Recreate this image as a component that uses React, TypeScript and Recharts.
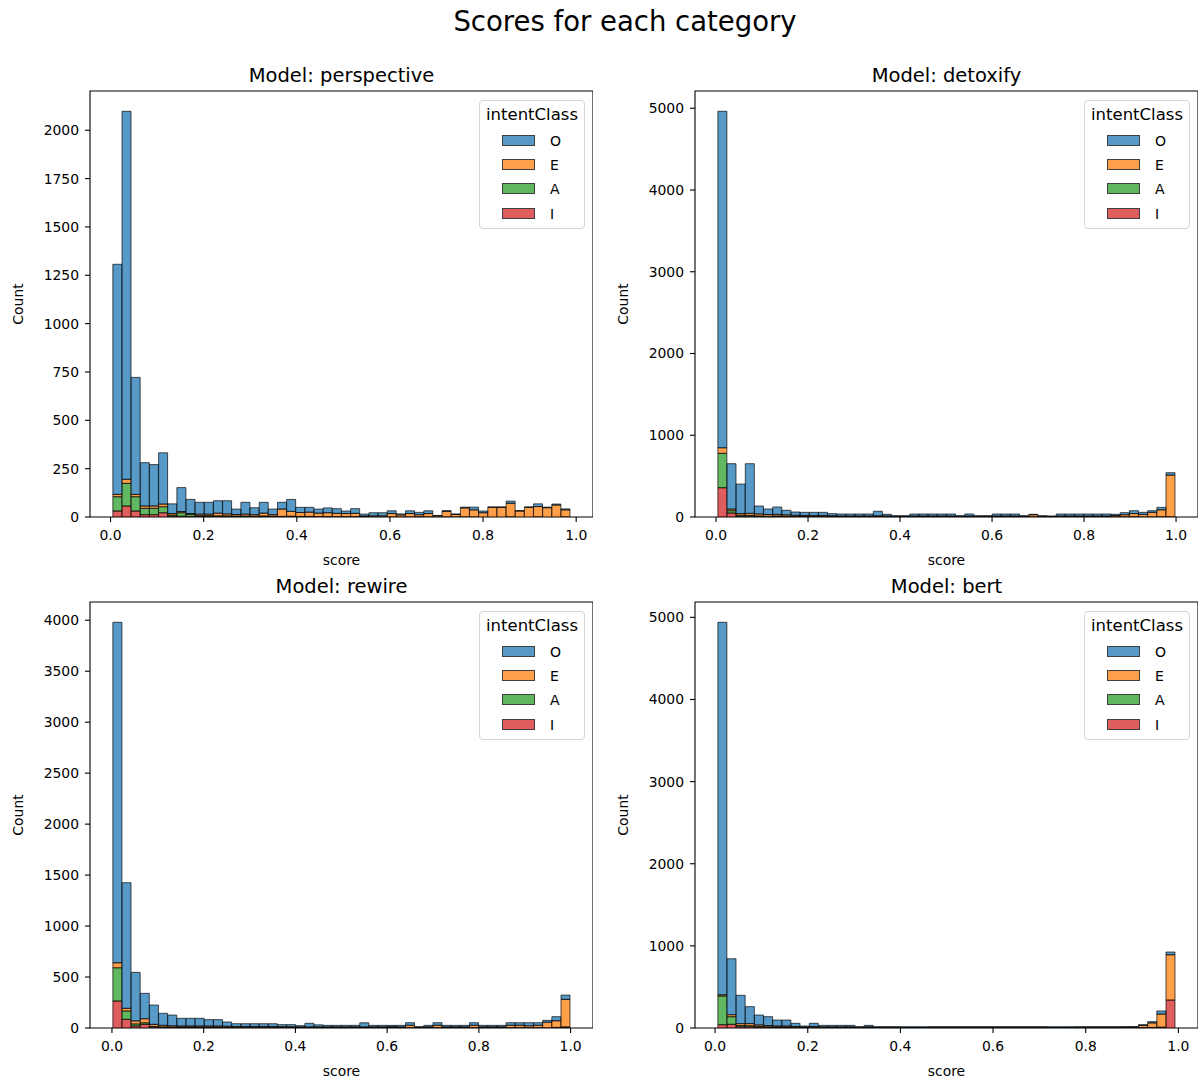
import React from 'react';
import { ComposedChart, Bar, XAxis, YAxis, ReferenceArea, Legend, Label } from 'recharts';

const FONT = '"DejaVu Sans", Verdana, sans-serif';

// ---------- data ----------
const classOrder = ['O', 'E', 'A', 'I'];
const classColors: Record<string, string> = { O: '#1f77b4', E: '#ff7f0e', A: '#2ca02c', I: '#d62728' };
const xTickValues = [0, 0.2, 0.4, 0.6, 0.8, 1.0];

// perspective
const perspectiveRange = [0.005, 0.987];
const perspectiveYTicks = [0, 250, 500, 750, 1000, 1250, 1500, 1750, 2000];
const perspectiveO = [1190, 1903, 605, 224, 214, 265, 50, 124, 73, 61, 61, 64, 68, 28, 61, 36, 56, 29, 35, 62, 27, 25, 21, 25, 24, 13, 24, 10, 16, 16, 14, 5, 14, 12, 14, 3, 4, 3, 4, 14, 9, 2, 2, 11, 2, 2, 14, 3, 5, 5];
const perspectiveE = [12, 21, 12, 12, 12, 14, 8, 6, 5, 8, 8, 14, 10, 8, 10, 8, 15, 8, 38, 25, 20, 22, 18, 20, 17, 16, 17, 3, 5, 5, 17, 10, 17, 10, 17, 5, 28, 12, 46, 36, 22, 50, 50, 70, 31, 50, 53, 48, 62, 36];
const perspectiveA = [74, 117, 74, 33, 33, 31, 5, 18, 10, 4, 4, 4, 4, 3, 3, 2, 3, 2, 2, 2, 2, 2, 1, 1, 1, 1, 1, 1, 1, 1, 1, 0, 1, 1, 1, 0, 1, 0, 1, 1, 0, 0, 0, 1, 0, 0, 1, 0, 0, 1];
const perspectiveI = [31, 57, 31, 12, 12, 22, 5, 4, 3, 3, 3, 2, 2, 2, 2, 2, 2, 2, 1, 2, 1, 1, 1, 1, 1, 1, 1, 1, 0, 0, 0, 1, 0, 1, 0, 0, 0, 1, 0, 0, 0, 0, 0, 0, 0, 0, 0, 0, 0, 0];

// detoxify
const detoxifyRange = [0.004, 0.998];
const detoxifyYTicks = [0, 1000, 2000, 3000, 4000, 5000];
const detoxifyO = [4116, 555, 361, 607, 96, 67, 89, 55, 40, 38, 38, 38, 25, 25, 25, 25, 25, 55, 20, 8, 8, 25, 25, 25, 25, 25, 8, 25, 8, 8, 25, 25, 25, 8, 5, 8, 5, 25, 25, 25, 25, 25, 25, 15, 25, 35, 25, 20, 30, 29];
const detoxifyE = [68, 20, 20, 25, 25, 22, 20, 17, 13, 12, 12, 12, 10, 8, 8, 8, 8, 10, 8, 5, 5, 8, 8, 8, 8, 8, 5, 8, 5, 5, 8, 8, 8, 5, 25, 5, 5, 8, 8, 8, 8, 8, 8, 15, 25, 38, 30, 55, 85, 510];
const detoxifyA = [421, 28, 12, 10, 8, 5, 8, 5, 4, 4, 4, 4, 3, 2, 2, 2, 2, 3, 3, 2, 2, 2, 2, 2, 2, 2, 2, 2, 2, 2, 2, 2, 2, 2, 2, 2, 1, 2, 2, 2, 2, 2, 2, 2, 2, 2, 1, 1, 2, 2];
const detoxifyI = [358, 49, 10, 10, 5, 4, 5, 5, 4, 3, 3, 3, 3, 2, 2, 2, 2, 2, 2, 1, 1, 2, 2, 2, 2, 2, 1, 2, 1, 1, 2, 2, 2, 1, 1, 1, 1, 2, 2, 2, 2, 2, 2, 1, 1, 2, 1, 1, 1, 1];

// rewire
const rewireRange = [0.002, 0.999];
const rewireYTicks = [0, 500, 1000, 1500, 2000, 2500, 3000, 3500, 4000];
const rewireO = [3340, 1232, 476, 249, 189, 118, 105, 75, 75, 75, 62, 62, 42, 28, 28, 28, 28, 28, 20, 20, 12, 35, 20, 15, 15, 15, 15, 40, 15, 15, 12, 15, 25, 6, 15, 25, 15, 15, 15, 25, 15, 15, 15, 25, 25, 30, 25, 18, 40, 42];
const rewireE = [49, 26, 30, 40, 20, 15, 12, 10, 10, 10, 10, 10, 9, 8, 8, 8, 8, 8, 8, 8, 6, 6, 6, 6, 6, 6, 6, 6, 6, 6, 8, 6, 23, 4, 6, 23, 6, 6, 6, 23, 6, 6, 6, 23, 23, 18, 23, 55, 65, 270];
const rewireA = [326, 82, 20, 15, 8, 6, 5, 5, 5, 5, 5, 5, 4, 3, 3, 3, 3, 3, 3, 3, 3, 3, 3, 3, 3, 3, 3, 3, 3, 3, 3, 3, 2, 2, 3, 2, 3, 3, 3, 2, 3, 3, 3, 2, 2, 2, 2, 1, 3, 5];
const rewireI = [265, 85, 20, 36, 8, 5, 5, 5, 5, 5, 5, 5, 4, 3, 3, 3, 3, 3, 2, 2, 2, 2, 2, 2, 2, 2, 2, 2, 2, 2, 3, 2, 2, 1, 2, 2, 2, 2, 2, 2, 2, 2, 2, 2, 2, 2, 2, 1, 3, 6];

// bert
const bertRange = [0.006, 0.993];
const bertYTicks = [0, 1000, 2000, 3000, 4000, 5000];
const bertO = [4535, 681, 345, 207, 120, 108, 72, 72, 38, 12, 38, 18, 18, 18, 18, 8, 18, 8, 8, 8, 10, 10, 10, 8, 8, 8, 8, 8, 8, 8, 8, 8, 8, 8, 8, 8, 10, 10, 10, 8, 8, 8, 8, 8, 8, 8, 10, 15, 37, 33];
const bertE = [15, 24, 23, 25, 18, 15, 12, 12, 10, 6, 10, 7, 7, 7, 7, 4, 7, 4, 4, 4, 3, 3, 3, 4, 4, 4, 4, 4, 4, 4, 4, 4, 4, 4, 4, 4, 3, 3, 3, 4, 4, 4, 4, 4, 5, 6, 25, 55, 160, 551];
const bertA = [350, 93, 15, 14, 10, 8, 7, 7, 5, 3, 5, 4, 4, 4, 4, 2, 4, 2, 2, 2, 2, 2, 2, 2, 2, 2, 2, 2, 2, 2, 2, 2, 2, 2, 2, 2, 2, 2, 2, 2, 2, 2, 2, 2, 2, 2, 2, 2, 3, 0];
const bertI = [40, 45, 15, 14, 10, 7, 6, 6, 4, 3, 4, 3, 3, 3, 3, 2, 3, 2, 2, 2, 1, 1, 1, 2, 2, 2, 2, 2, 2, 2, 2, 2, 2, 2, 2, 2, 1, 1, 1, 2, 2, 2, 2, 2, 2, 2, 4, 5, 7, 341];

type Row = { bin: number; x: number; O: number; E: number; A: number; I: number };
function buildRows(range: number[], O: number[], E: number[], A: number[], I: number[]): Row[] {
  const w = (range[1] - range[0]) / O.length;
  return O.map((o, k) => ({ bin: k, x: range[0] + (k + 0.5) * w, O: o, E: E[k], A: A[k], I: I[k] }));
}

// ---------- layout ----------
const PW = 503; // plot width
const PH = 426; // plot height
const YW = 90;  // y axis width
const MT = 50;  // top margin (title space)
const XH = 50;  // x axis height

const LegendBox = (props: any) => {
  const payload: any[] = props.payload || [];
  const items = classOrder.map((name) => {
    const p = payload.find((q) => q.value === name);
    return { name, color: (p && p.color) || classColors[name] };
  });
  return (
    <div
      style={{
        width: 106,
        height: 129,
        boxSizing: 'border-box',
        border: '1px solid #d6d6d6',
        borderRadius: 4,
        background: 'rgba(255,255,255,0.8)',
        position: 'relative',
        fontFamily: FONT,
        color: '#000',
      }}
    >
      <div style={{ position: 'absolute', top: 4, left: 0, width: '100%', textAlign: 'center', fontSize: 16.5, lineHeight: '20px' }}>
        intentClass
      </div>
      {items.map((it, i) => {
        const cy = 39.5 + i * 24.4;
        return (
          <React.Fragment key={it.name}>
            <div
              style={{
                position: 'absolute',
                left: 22,
                top: cy - 6,
                width: 33,
                height: 11,
                boxSizing: 'border-box',
                background: it.color,
                opacity: 0.75,
                border: '1.3px solid #000',
              }}
            />
            <div style={{ position: 'absolute', left: 70, top: cy - 10, fontSize: 14, lineHeight: '20px' }}>{it.name}</div>
          </React.Fragment>
        );
      })}
    </div>
  );
};

type PanelProps = {
  title: string;
  rows: Row[];
  range: number[];
  yTicks: number[];
  left: number;
  top: number;
};

function Panel({ title, rows, range, yTicks, left, top }: PanelProps) {
  const r = range[1] - range[0];
  const lo = range[0] - 0.05 * r;
  const hi = range[1] + 0.05 * r;
  const ymax = Math.max(...rows.map((d) => d.O + d.E + d.A + d.I)) * 1.05;
  const pad = PW / 22;
  const W = YW + PW;
  const H = MT + PH + XH;
  const tickStyle = { fontSize: 13.9, fill: '#000', fontFamily: FONT };
  return (
    <div style={{ position: 'absolute', left, top, width: W, height: H }}>
      <div
        style={{
          position: 'absolute',
          left: YW,
          top: MT - 25,
          width: PW,
          textAlign: 'center',
          fontSize: 19.5,
          lineHeight: '20px',
          fontFamily: FONT,
          color: '#000',
          whiteSpace: 'nowrap',
        }}
      >
        {title}
      </div>
      <ComposedChart
        width={W}
        height={H}
        data={rows}
        margin={{ top: MT, right: 0, bottom: 0, left: 0 }}
        barCategoryGap={0}
        barGap={0}
      >
        <XAxis xAxisId="cat" dataKey="bin" type="category" hide height={0} padding={{ left: pad, right: pad }} />
        <XAxis
          xAxisId="num"
          dataKey="x"
          type="number"
          domain={[lo, hi]}
          allowDataOverflow
          ticks={xTickValues}
          interval={0}
          tickFormatter={(v: number) => v.toFixed(1)}
          height={XH}
          axisLine={false}
          tickSize={5}
          tickMargin={8}
          tick={tickStyle}
          tickLine={{ stroke: '#000', strokeWidth: 1.1 }}
        >
          <Label
            content={() => (
              <text
                x={YW + PW / 2}
                y={MT + PH + 43}
                textAnchor="middle"
                dominantBaseline="central"
                fontSize={13.9}
                fontFamily={FONT}
                fill="#000"
              >
                score
              </text>
            )}
          />
        </XAxis>
        <YAxis
          type="number"
          domain={[0, ymax]}
          allowDataOverflow
          ticks={yTicks}
          interval={0}
          width={YW}
          axisLine={false}
          tickSize={5}
          tickMargin={6}
          tick={tickStyle}
          tickLine={{ stroke: '#000', strokeWidth: 1.1 }}
        >
          <Label
            content={() => (
              <text
                x={YW - 72}
                y={MT + PH / 2}
                textAnchor="middle"
                dominantBaseline="central"
                fontSize={13.9}
                fontFamily={FONT}
                fill="#000"
                transform={`rotate(-90, ${YW - 72}, ${MT + PH / 2})`}
              >
                Count
              </text>
            )}
          />
        </YAxis>
        {['I', 'A', 'E', 'O'].map((k) => (
          <Bar
            key={k}
            xAxisId="cat"
            dataKey={k}
            name={k}
            stackId="s"
            fill={classColors[k]}
            fillOpacity={0.75}
            stroke="#000"
            strokeOpacity={0.75}
            strokeWidth={0.9}
            isAnimationActive={false}
          />
        ))}
        <ReferenceArea
          xAxisId="num"
          x1={lo}
          x2={hi}
          y1={0}
          y2={ymax}
          fill="none"
          fillOpacity={0}
          stroke="#000"
          strokeWidth={1.1}
          ifOverflow="visible"
        />
        <Legend
          layout="horizontal"
          align="center"
          verticalAlign="middle"
          content={<LegendBox />}
          wrapperStyle={{ position: 'absolute', left: YW + PW - 8 - 106, top: MT + 9, width: 106, height: 129 }}
        />
      </ComposedChart>
    </div>
  );
}

export default function App() {
  return (
    <div style={{ position: 'absolute', left: 0, top: 0, width: 1198, height: 1082, background: '#fff', overflow: 'hidden' }}>
      <div
        style={{
          position: 'absolute',
          left: 325,
          top: 5,
          width: 600,
          textAlign: 'center',
          fontSize: 27.5,
          lineHeight: '32px',
          fontFamily: FONT,
          color: '#000',
        }}
      >
        Scores for each category
      </div>
      <Panel
        title="Model: perspective"
        rows={buildRows(perspectiveRange, perspectiveO, perspectiveE, perspectiveA, perspectiveI)}
        range={perspectiveRange}
        yTicks={perspectiveYTicks}
        left={0}
        top={41}
      />
      <Panel
        title="Model: detoxify"
        rows={buildRows(detoxifyRange, detoxifyO, detoxifyE, detoxifyA, detoxifyI)}
        range={detoxifyRange}
        yTicks={detoxifyYTicks}
        left={605}
        top={41}
      />
      <Panel
        title="Model: rewire"
        rows={buildRows(rewireRange, rewireO, rewireE, rewireA, rewireI)}
        range={rewireRange}
        yTicks={rewireYTicks}
        left={0}
        top={552}
      />
      <Panel
        title="Model: bert"
        rows={buildRows(bertRange, bertO, bertE, bertA, bertI)}
        range={bertRange}
        yTicks={bertYTicks}
        left={605}
        top={552}
      />
    </div>
  );
}
